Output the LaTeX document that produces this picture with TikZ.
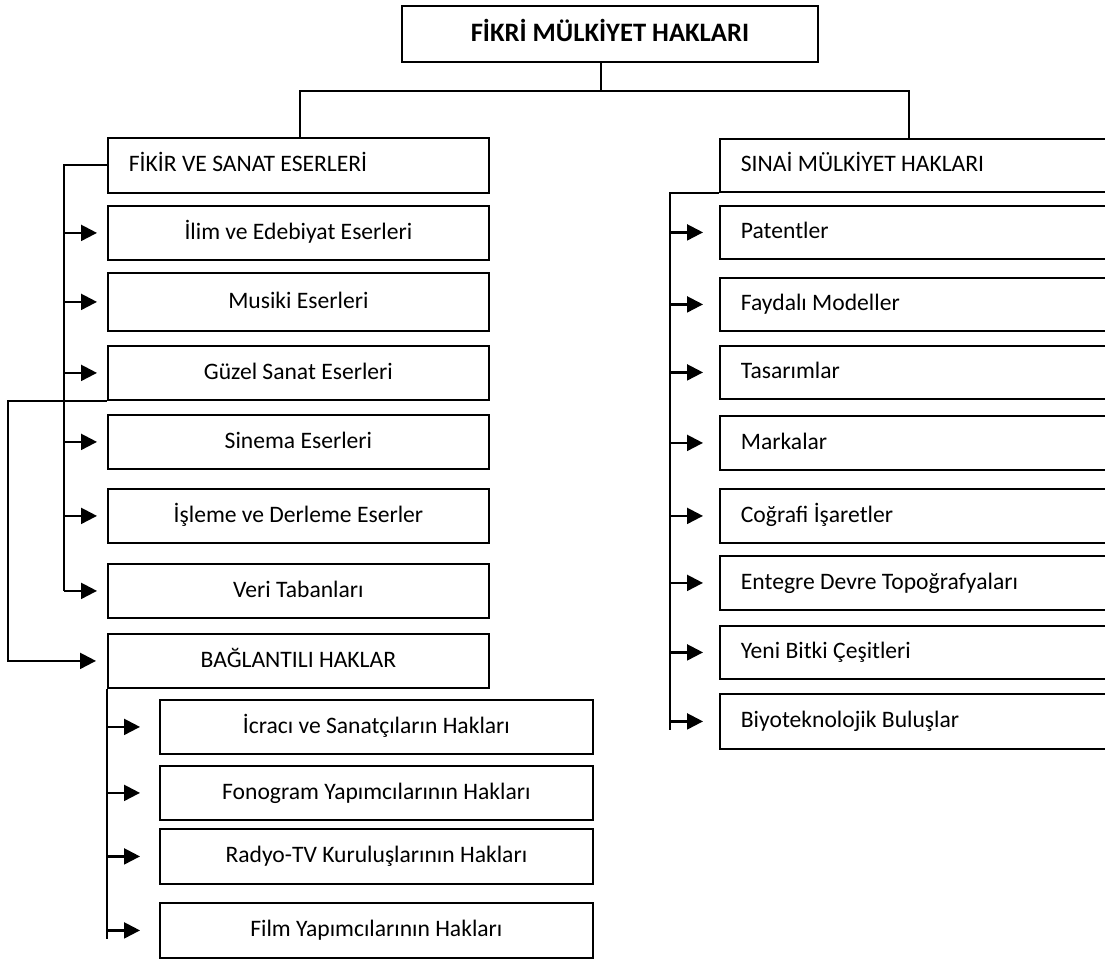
\documentclass[tikz,border=0pt]{standalone}
\usepackage{fontspec}
\setmainfont{Carlito}
\usetikzlibrary{arrows.meta}
\tikzset{
  kutu/.style={draw, line width=1.8pt, anchor=north west, inner sep=0pt,
    minimum width=381pt, minimum height=54pt, text height=18pt, text depth=5pt,
    font=\fontsize{23.6pt}{28pt}\selectfont},
  solkutu/.style={kutu, text width=#1, align=flush left, inner xsep=21pt},
  altkutu/.style={kutu, minimum width=433pt},
  sagkutu/.style={solkutu=354pt, minimum width=396pt},
  hat/.style={line width=2pt},
  ok/.style={line width=2.2pt, -{Triangle[length=16pt,width=16pt]}, shorten >=#1},
  ok/.default=10pt
}
\begin{document}
\begin{tikzpicture}[x=1pt,y=-1pt]
  \clip (0,0) rectangle (1105,959);

  \node[kutu, minimum width=416pt, minimum height=56pt, text height=20pt, text depth=5pt,
    font=\fontsize{26.6pt}{32pt}\selectfont\bfseries] (fmh) at (401,5) {FİKRİ MÜLKİYET HAKLARI};

  \node[solkutu=339pt, minimum height=55pt] (fse) at (107,137) {FİKİR VE SANAT ESERLERİ};
  \node[kutu] (ilim) at (107,205) {İlim ve Edebiyat Eserleri};
  \node[kutu, minimum height=58pt] (musiki) at (107,272) {Musiki Eserleri};
  \node[kutu] (guzel) at (107,345) {Güzel Sanat Eserleri};
  \node[kutu] (sinema) at (107,414) {Sinema Eserleri};
  \node[kutu] (isleme) at (107,488) {İşleme ve Derleme Eserler};
  \node[kutu] (veri) at (107,563) {Veri Tabanları};
  \node[kutu] (bag) at (107,633) {BAĞLANTILI HAKLAR};

  \node[altkutu] (icraci) at (159,699) {İcracı ve Sanatçıların Hakları};
  \node[altkutu] (fonogram) at (159,765) {Fonogram Yapımcılarının Hakları};
  \node[altkutu, minimum height=55pt] (radyo) at (159,828) {Radyo-TV Kuruluşlarının Hakları};
  \node[altkutu, minimum height=55pt] (film) at (159,902) {Film Yapımcılarının Hakları};

  \node[sagkutu, minimum height=53pt] (sm) at (719,138) {SINAİ MÜLKİYET HAKLARI};
  \node[sagkutu, minimum height=53pt] (patent) at (719,205) {Patentler};
  \node[sagkutu, minimum height=53pt] (faydali) at (719,277) {Faydalı Modeller};
  \node[sagkutu, minimum height=53pt] (tasarim) at (719,345) {Tasarımlar};
  \node[sagkutu] (marka) at (719,415) {Markalar};
  \node[sagkutu] (cografi) at (719,488) {Coğrafi İşaretler};
  \node[sagkutu] (entegre) at (719,555) {Entegre Devre Topoğrafyaları};
  \node[sagkutu, minimum height=53pt] (yeni) at (719,625) {Yeni Bitki Çeşitleri};
  \node[sagkutu, minimum height=55pt] (biyo) at (719,693) {Biyoteknolojik Buluşlar};

  \coordinate (kok) at (601,0);
  \coordinate (solkol) at (300,91);
  \coordinate (sagkol) at (909,91);
  \coordinate (fsekol) at (64,0);
  \coordinate (bagkol) at (8,0);
  \coordinate (smkol) at (670,0);
  \coordinate (filmalt) at ([yshift=-9pt]film.west);
  \coordinate (biyoalt) at ([yshift=-9pt]biyo.west);

  \draw[hat] (fmh.south -| kok) |- (solkol) -- (solkol |- fse.north);
  \draw[hat] (fmh.south -| kok) |- (sagkol) -- (sagkol |- sm.north);

  \draw[hat] (fse.west) -- (fse.west -| fsekol) -- (veri.west -| fsekol);
  \draw[ok] (ilim.west -| fsekol) -- (ilim.west);
  \draw[ok] (musiki.west -| fsekol) -- (musiki.west);
  \draw[ok] (guzel.west -| fsekol) -- (guzel.west);
  \draw[ok] (sinema.west -| fsekol) -- (sinema.west);
  \draw[ok] (isleme.west -| fsekol) -- (isleme.west);
  \draw[ok] (veri.west -| fsekol) -- (veri.west);

  \draw[ok=11pt] (guzel.south west) -- (guzel.south west -| bagkol) |- (bag.west);

  \draw[hat] (bag.south west) -- (filmalt -| bag.south west);
  \draw[ok=19pt] (icraci.west -| bag.south west) -- (icraci.west);
  \draw[ok=19pt] (fonogram.west -| bag.south west) -- (fonogram.west);
  \draw[ok=19pt] (radyo.west -| bag.south west) -- (radyo.west);
  \draw[ok=19pt] (film.west -| bag.south west) -- (film.west);

  \draw[hat] (sm.south west) -- (sm.south west -| smkol) -- (biyoalt -| smkol);
  \draw[ok=16pt] (patent.west -| smkol) -- (patent.west);
  \draw[ok=16pt] (faydali.west -| smkol) -- (faydali.west);
  \draw[ok=16pt] (tasarim.west -| smkol) -- (tasarim.west);
  \draw[ok=16pt] (marka.west -| smkol) -- (marka.west);
  \draw[ok=16pt] (cografi.west -| smkol) -- (cografi.west);
  \draw[ok=16pt] (entegre.west -| smkol) -- (entegre.west);
  \draw[ok=16pt] (yeni.west -| smkol) -- (yeni.west);
  \draw[ok=16pt] (biyo.west -| smkol) -- (biyo.west);
\end{tikzpicture}
\end{document}
